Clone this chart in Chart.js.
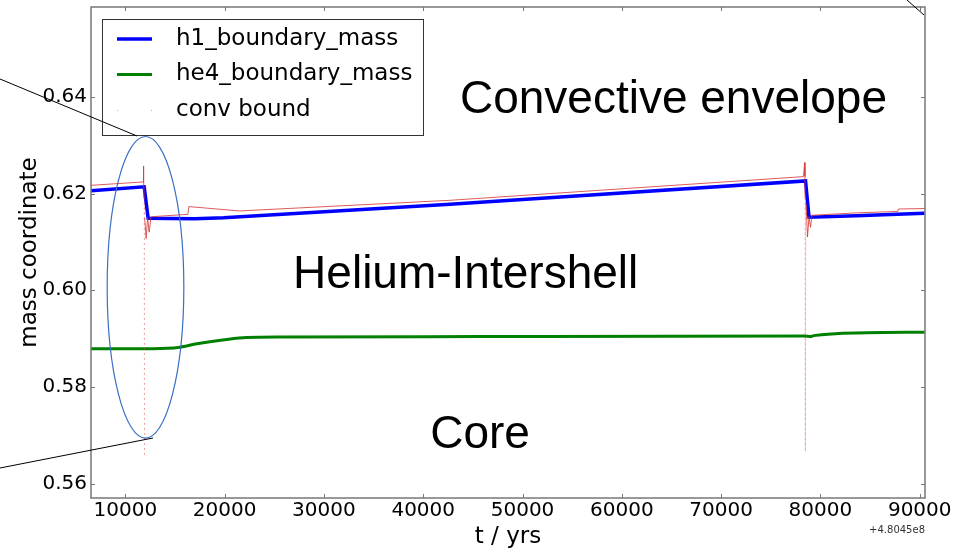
<!DOCTYPE html>
<html>
<head>
<meta charset="utf-8">
<script src="https://cdn.jsdelivr.net/npm/chart.js@4.4.0/dist/chart.umd.min.js"></script>
<style>
  html, body { margin: 0; padding: 0; background: #fff; }
</style>
</head>
<body>
<canvas id="myChart" width="968" height="549"></canvas>
<script>
// time is measured from an offset of 4.8045e8 yr
const h1Time = [6550, 11900, 12300, 17000, 19900, 42700, 78500, 78850, 83600, 90500];
const h1Mass = [0.6206, 0.6214, 0.6149, 0.6148, 0.6150, 0.6178, 0.6226, 0.6151, 0.6154, 0.6159];

const he4Time = [6550, 12800, 15500, 17200, 20200, 22200, 26000, 45700, 78400, 79000, 79300, 84700, 90500];
const he4Mass = [0.5879, 0.5879, 0.5882, 0.5889, 0.5898, 0.5902, 0.5903, 0.5904, 0.5905, 0.5904, 0.5906, 0.5912, 0.5913];

const convTime = [6550, 11800, 11830, 11860, 11900, 11913, 11950, 12100, 12250, 12400, 12600, 16300, 16400, 21500, 42700,
                  78280, 78420, 78440, 78460, 78480, 78550, 78700, 78850, 79000, 79150, 83600, 87800, 87850, 90500];
const convMass = [0.6217, 0.6224, 0.6257, 0.6224, 0.6190, 0.5656, 0.6150, 0.6107, 0.6150, 0.6120, 0.6152, 0.6157, 0.6173, 0.6164, 0.6186,
                  0.6235, 0.6264, 0.6235, 0.6190, 0.5666, 0.6180, 0.6110, 0.6152, 0.6130, 0.6155, 0.6160, 0.6163, 0.6168, 0.6169];

const timeTicks = [10000, 20000, 30000, 40000, 50000, 60000, 70000, 80000, 90000];
const massTicks = [0.56, 0.58, 0.60, 0.62, 0.64];
const timeRange = [6546, 90530];
const massRange = [0.5570, 0.6586];

const regionLabels = ['Convective envelope', 'Helium-Intershell', 'Core'];
const regionAnchors = [[43700, 0.6366], [26900, 0.6004], [40700, 0.5673]];

const pts = (xs, ys) => xs.map((t, i) => ({ x: t, y: ys[i] }));

// inward ticks on all four sides plus the box
const frame = {
  id: 'frame',
  afterDatasetsDraw(chart) {
    const { ctx, chartArea: a, scales: { x, y } } = chart;
    ctx.save();
    ctx.strokeStyle = '#777';
    ctx.lineWidth = 1;
    ctx.beginPath();
    x.ticks.forEach(t => {
      const px = Math.round(x.getPixelForValue(t.value)) + 0.5;
      ctx.moveTo(px, a.bottom); ctx.lineTo(px, a.bottom - 4);
      ctx.moveTo(px, a.top); ctx.lineTo(px, a.top + 4);
    });
    y.ticks.forEach(t => {
      const py = Math.round(y.getPixelForValue(t.value)) + 0.5;
      ctx.moveTo(a.left, py); ctx.lineTo(a.left + 4, py);
      ctx.moveTo(a.right, py); ctx.lineTo(a.right - 4, py);
    });
    ctx.stroke();
    ctx.lineWidth = 1.5;
    ctx.strokeRect(a.left, a.top, a.right - a.left, a.bottom - a.top);

    // offset for the time axis
    ctx.fillStyle = '#333';
    ctx.font = '10px "DejaVu Sans"';
    ctx.textAlign = 'right';
    ctx.textBaseline = 'middle';
    ctx.fillText('+4.8045e8', a.right, 530);
    ctx.restore();
  }
};

// legend box in the upper left corner
const boxLegend = {
  id: 'boxLegend',
  afterDatasetsDraw(chart) {
    const { ctx, chartArea: a } = chart;
    const left = a.left + 11, top = a.top + 12, w = 321, h = 116;
    ctx.save();
    ctx.fillStyle = '#fff';
    ctx.fillRect(left, top, w, h);
    ctx.strokeStyle = '#333';
    ctx.lineWidth = 1;
    ctx.strokeRect(left + 0.5, top + 0.5, w, h);
    ctx.font = '23px "DejaVu Sans"';
    ctx.textBaseline = 'middle';
    ctx.textAlign = 'left';
    chart.data.datasets.forEach((ds, i) => {
      const ry = top + 20 + i * 35.5;
      if (ds.showSample) {
        ctx.strokeStyle = ds.borderColor;
        ctx.lineWidth = ds.borderWidth;
        ctx.beginPath();
        ctx.moveTo(left + 15, ry); ctx.lineTo(left + 50, ry);
        ctx.stroke();
      } else {
        ctx.fillStyle = 'rgba(220,60,60,0.5)';
        ctx.fillRect(left + 15, ry, 1, 1);
        ctx.fillRect(left + 49, ry, 1, 1);
      }
      ctx.fillStyle = '#000';
      ctx.fillText(ds.label, left + 74, ry);
    });
    ctx.restore();
  }
};

// region names, the ring round the first pulse and its leader lines
const notes = {
  id: 'notes',
  afterDraw(chart) {
    const { ctx, scales: { x, y } } = chart;
    ctx.save();
    ctx.fillStyle = '#000';
    ctx.font = '46px "Liberation Sans"';
    ctx.textAlign = 'left';
    ctx.textBaseline = 'alphabetic';
    regionLabels.forEach((s, i) => {
      ctx.fillText(s, x.getPixelForValue(regionAnchors[i][0]), y.getPixelForValue(regionAnchors[i][1]));
    });

    const cx = x.getPixelForValue(12034), cy = y.getPixelForValue(0.6006);
    const rx = x.getPixelForValue(12034 + 3860) - cx;
    const ry = cy - y.getPixelForValue(0.6006 + 0.0312);
    ctx.strokeStyle = '#3a6fc4';
    ctx.lineWidth = 1.2;
    ctx.beginPath();
    ctx.ellipse(cx, cy, rx, ry, 0, 0, Math.PI * 2);
    ctx.stroke();

    ctx.strokeStyle = '#000';
    ctx.lineWidth = 1;
    ctx.beginPath();
    ctx.moveTo(0, 79); ctx.lineTo(137, 136);
    ctx.moveTo(0, 468); ctx.lineTo(153, 438);
    ctx.moveTo(907, 0); ctx.lineTo(924, 15);
    ctx.stroke();
    ctx.restore();
  }
};

const deep = c => Math.min(c.p0.parsed.y, c.p1.parsed.y) < 0.605;

const config = {
  type: 'scatter',
  data: {
    datasets: [
      {
        label: 'h1_boundary_mass',
        data: pts(h1Time, h1Mass),
        showLine: true,
        showSample: true,
        borderColor: '#0000ff',
        borderWidth: 3.5,
        pointRadius: 0,
        order: 1,
      },
      {
        label: 'he4_boundary_mass',
        data: pts(he4Time, he4Mass),
        showLine: true,
        showSample: true,
        borderColor: '#008000',
        borderWidth: 3,
        pointRadius: 0,
        cubicInterpolationMode: 'monotone',
        order: 2,
      },
      {
        label: 'conv bound',
        data: pts(convTime, convMass),
        showLine: true,
        showSample: false,
        borderColor: 'rgba(215,50,50,0.8)',
        borderWidth: 1,
        pointRadius: 0,
        order: 0,
        segment: {
          borderColor: c => deep(c) ? 'rgba(215,60,60,0.55)' : undefined,
          borderDash: c => deep(c) ? [1, 4] : undefined,
        },
      },
    ],
  },
  options: {
    responsive: false,
    animation: false,
    layout: { padding: { left: 0, right: 43, top: 7, bottom: 0 } },
    plugins: { legend: { display: false }, tooltip: { enabled: false } },
    scales: {
      x: {
        type: 'linear',
        min: timeRange[0],
        max: timeRange[1],
        afterFit: s => { s.height = 51; s.paddingLeft = 0; s.paddingRight = 0; },
        afterBuildTicks: s => { s.ticks = timeTicks.map(v => ({ value: v })); },
        grid: { display: false, drawTicks: false },
        border: { display: false },
        ticks: {
          color: '#000',
          padding: 1,
          maxRotation: 0,
          font: { family: 'DejaVu Sans', size: 20 },
          callback: v => String(v),
        },
        title: {
          display: true,
          text: 't / yrs',
          color: '#000',
          font: { family: 'DejaVu Sans', size: 23 },
          padding: { top: 0, bottom: -2 },
        },
      },
      y: {
        type: 'linear',
        min: massRange[0],
        max: massRange[1],
        afterFit: s => { s.width = 91; s.paddingTop = 0; s.paddingBottom = 0; },
        afterBuildTicks: s => { s.ticks = massTicks.map(v => ({ value: v })); },
        grid: { display: false, drawTicks: false },
        border: { display: false },
        ticks: {
          color: '#000',
          padding: 4,
          font: { family: 'DejaVu Sans', size: 20 },
          callback: v => v.toFixed(2),
        },
        title: {
          display: true,
          text: 'mass coordinate',
          color: '#000',
          font: { family: 'DejaVu Sans', size: 23 },
          padding: { top: 16, bottom: 0 },
        },
      },
    },
  },
  plugins: [frame, boxLegend, notes],
};

const myChart = new Chart(document.getElementById('myChart'), config);
</script>
</body>
</html>
